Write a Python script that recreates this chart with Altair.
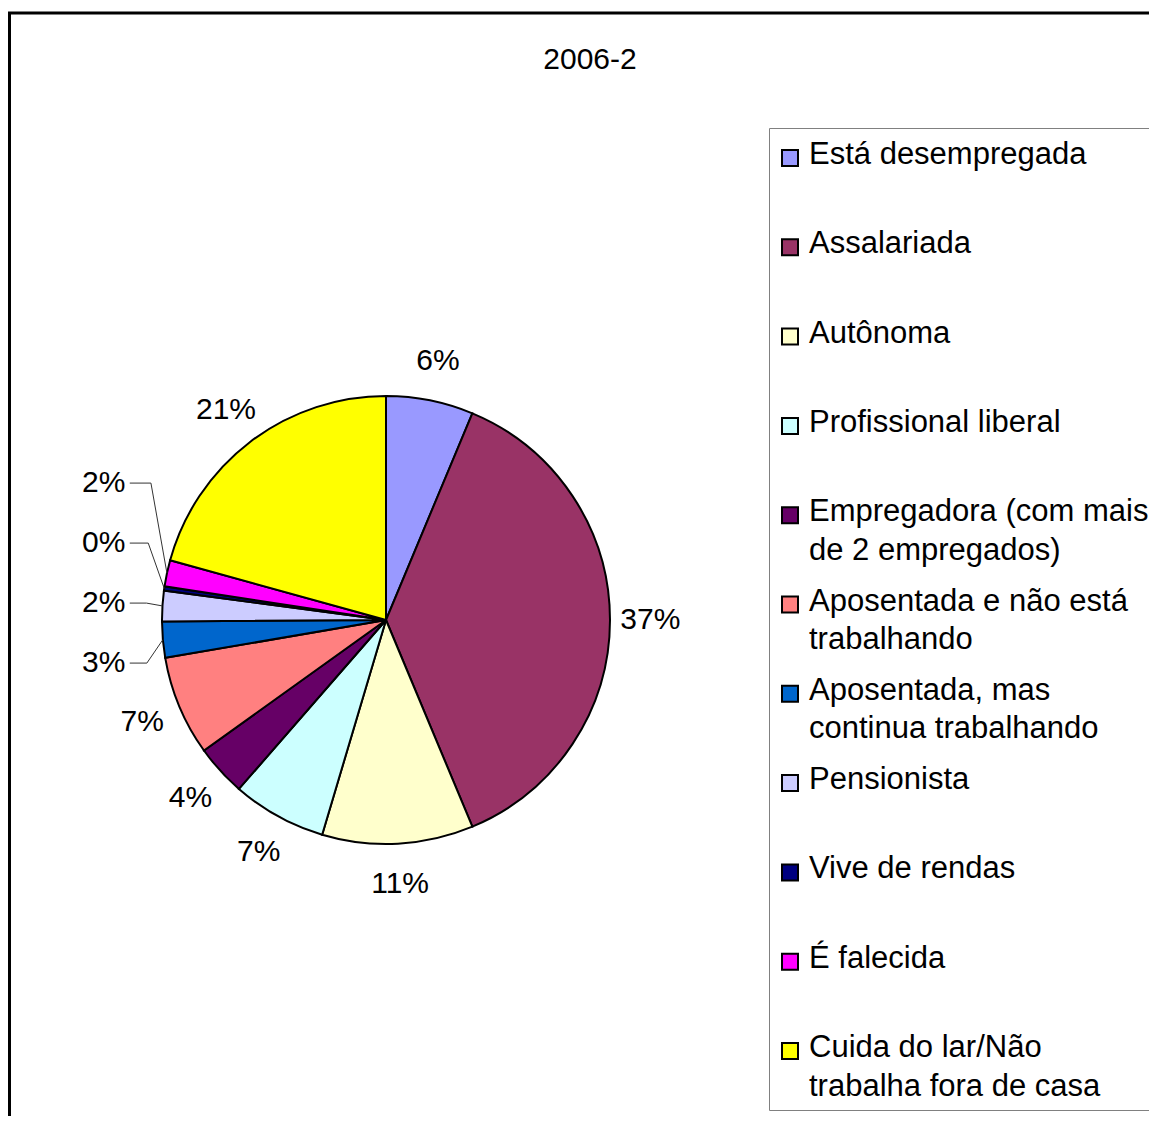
import math
import numpy as np
import pandas as pd
import altair as alt

# ---------------- data ----------------
categories = [
    "Está desempregada",
    "Assalariada",
    "Autônoma",
    "Profissional liberal",
    "Empregadora (com mais de 2 empregados)",
    "Aposentada e não está trabalhando",
    "Aposentada, mas continua trabalhando",
    "Pensionista",
    "Vive de rendas",
    "É falecida",
    "Cuida do lar/Não trabalha fora de casa",
]
legend_labels = [
    "Está desempregada",
    "Assalariada",
    "Autônoma",
    "Profissional liberal",
    "Empregadora (com mais|de 2 empregados)",
    "Aposentada e não está|trabalhando",
    "Aposentada, mas|continua trabalhando",
    "Pensionista",
    "Vive de rendas",
    "É falecida",
    "Cuida do lar/Não|trabalha fora de casa",
]
values = [6.3, 37.4, 10.9, 6.8, 3.7, 7.2, 2.6, 2.2, 0.3, 1.9, 20.7]
colors = ["#9999FF", "#993366", "#FFFFCC", "#CCFFFF", "#660066", "#FF8080",
          "#0066CC", "#CCCCFF", "#000080", "#FF00FF", "#FFFF00"]
title_text = "2006-2"

# ---------------- layout ----------------
W, H = 1141, 1108
CX, CY = 378, 612
R = 224
FONT = "Liberation Sans"
LABEL_R = 1.18
SMALL = 3.0
SMALL_X = 1.26
SMALL_GAP = 60 / R
SMALL_SHIFT = 24 / R

df = pd.DataFrame({
    "idx": range(len(categories)),
    "category": categories,
    "legend": legend_labels,
    "value": values,
})

total = float(sum(values))
cum = np.cumsum(values)
mids = [(c - v / 2) / total * 2 * math.pi for c, v in zip(cum, values)]

rows = []
small_rows = []
for i, (v, th) in enumerate(zip(values, mids)):
    lab = f"{round(v):.0f}%"
    if v < SMALL:
        small_rows.append((i, lab, th))
    else:
        rows.append({"lx": LABEL_R * math.sin(th), "ly": LABEL_R * math.cos(th), "label": lab})

# spread the small labels in a column on the left
nat = [SMALL_X * math.cos(th) for _, _, th in small_rows]
center = float(np.mean(nat)) + SMALL_SHIFT
n = len(small_rows)
segs = []
for k, (i, lab, th) in enumerate(small_rows):
    ly = center + (k - (n - 1) / 2) * SMALL_GAP
    lx = -SMALL_X
    rows.append({"lx": lx, "ly": ly, "label": lab})
    ex, ey = math.sin(th), math.cos(th)
    ax = lx + 26 / R
    bx = ex - 16 / R
    segs.append({"x": ax, "y": ly, "x2": bx, "y2": ly})
    segs.append({"x": bx, "y": ly, "x2": ex, "y2": ey})
lab_df = pd.DataFrame(rows)
seg_df = pd.DataFrame(segs)

xs = alt.Scale(domain=[-CX / R, (W - CX) / R], nice=False, zero=False)
ys = alt.Scale(domain=[-(H - CY) / R, CY / R], nice=False, zero=False)
color = alt.Color("category:N", scale=alt.Scale(domain=categories, range=colors), legend=None)

one = alt.Chart(pd.DataFrame({"k": [0]}))

border = one.mark_rect(fill=None, stroke="black", strokeWidth=3).encode(
    x=alt.value(1.5), x2=alt.value(1300), y=alt.value(5), y2=alt.value(1300))
legbox = one.mark_rect(fill="white", stroke="#808080", strokeWidth=1).encode(
    x=alt.value(761.5), x2=alt.value(1300), y=alt.value(120.5), y2=alt.value(1102.5))

arcs = alt.Chart(df).mark_arc(outerRadius=R, stroke="black", strokeWidth=2).encode(
    theta=alt.Theta("value:Q", stack=True),
    color=color,
    order=alt.Order("idx:Q"),
    x=alt.value(CX), y=alt.value(CY),
)

leaders = alt.Chart(seg_df).mark_rule(color="#333333", strokeWidth=1).encode(
    x=alt.X("x:Q", scale=xs, axis=None), y=alt.Y("y:Q", scale=ys, axis=None),
    x2="x2:Q", y2="y2:Q")

labels = alt.Chart(lab_df).mark_text(font=FONT, fontSize=30, align="center",
                                     baseline="middle", color="black").encode(
    x=alt.X("lx:Q", scale=xs, axis=None), y=alt.Y("ly:Q", scale=ys, axis=None),
    text="label:N")

ly_scale = alt.Scale(type="point", range=[150, 150 + 10 * 89.3], padding=0)
legmarks = alt.Chart(df).mark_square(size=256, stroke="black", strokeWidth=2,
                                     opacity=1, filled=True).encode(
    x=alt.value(790 - 8),
    y=alt.Y("category:N", sort=categories, scale=ly_scale, axis=None),
    color=color)
legtext = alt.Chart(df).mark_text(font=FONT, fontSize=31, align="left", baseline="alphabetic",
                                  dy=6, lineBreak="|", lineHeight=38.5, color="black").encode(
    x=alt.value(801),
    y=alt.Y("category:N", sort=categories, scale=ly_scale, axis=None),
    text="legend:N")

title = one.mark_text(text=title_text, font=FONT, fontSize=30, align="center",
                      baseline="middle", color="black").encode(
    x=alt.value(582), y=alt.value(52))

chart = alt.layer(border, legbox, arcs, leaders, labels, legmarks, legtext, title).resolve_scale(
    x="independent", y="independent"
).properties(width=W, height=H, padding=0, autosize="none").configure_view(stroke=None)

chart.save("out.html", embed_options={"renderer": "svg", "actions": False})
